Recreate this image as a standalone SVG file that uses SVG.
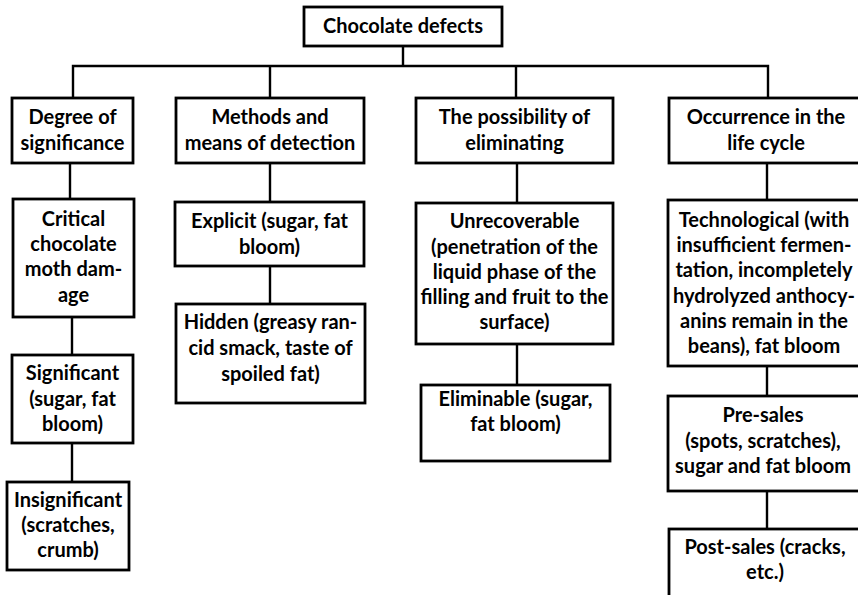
<svg xmlns="http://www.w3.org/2000/svg" width="858" height="595" viewBox="0 0 858 595">
<style>
.box{fill:#fff;stroke:#000;stroke-width:2.8}
.ln{fill:none;stroke:#000;stroke-width:2.4}
text{font-family:Lato,"Open Sans","Liberation Sans",sans-serif;font-weight:bold;font-size:20px;fill:#000;text-anchor:middle}
</style>
<rect width="858" height="595" fill="#fff"/>
<g id="connectors" class="ln">
<path d="M403 46V66M73 98V66H768V98M270 66V98M516 66V98"/>
<path d="M70 163V199M72 317V355M72 443V482"/>
<path d="M270 163V202M270 266V304"/>
<path d="M517 163V203M517 344V385"/>
<path d="M767 163V200M767 366V396M767 491V529"/>
</g>
<g id="root"><rect class="box" x="304" y="7" width="198" height="39"/><text x="403" y="33">Chocolate defects</text></g>
<g id="degree"><rect class="box" x="12" y="98" width="121" height="65"/><text x="72.5" y="124">Degree of</text><text x="72.5" y="150">significance</text></g>
<g id="methods"><rect class="box" x="176" y="98" width="188" height="65"/><text x="270" y="124">Methods and</text><text x="270" y="150">means of detection</text></g>
<g id="possibility"><rect class="box" x="416" y="98" width="197" height="65"/><text x="514.5" y="124">The possibility of</text><text x="514.5" y="150">eliminating</text></g>
<g id="occurrence"><rect class="box" x="669" y="98" width="194" height="65"/><text x="766" y="124">Occurrence in the</text><text x="766" y="150">life cycle</text></g>
<g id="critical"><rect class="box" x="13" y="199" width="121" height="118"/><text x="73.5" y="225.7">Critical</text><text x="73.5" y="251">chocolate</text><text x="73.5" y="276.3">moth dam-</text><text x="73.5" y="301.7">age</text></g>
<g id="significant"><rect class="box" x="12" y="355" width="121" height="88"/><text x="72.5" y="380">Significant</text><text x="72.5" y="405.5">(sugar, fat</text><text x="72.5" y="431">bloom)</text></g>
<g id="insignificant"><rect class="box" x="7" y="482" width="122" height="88"/><text x="68" y="506.7">Insignificant</text><text x="68" y="532">(scratches,</text><text x="68" y="557">crumb)</text></g>
<g id="explicit"><rect class="box" x="175" y="202" width="189" height="64"/><text x="269.5" y="228.3">Explicit (sugar, fat</text><text x="269.5" y="254">bloom)</text></g>
<g id="hidden"><rect class="box" x="176" y="304" width="189" height="99"/><text x="270.5" y="329.3">Hidden (greasy ran-</text><text x="270.5" y="355">cid smack, taste of</text><text x="270.5" y="380.5">spoiled fat)</text></g>
<g id="unrecoverable"><rect class="box" x="416" y="203" width="197" height="141"/><text x="514.5" y="228.3">Unrecoverable</text><text x="514.5" y="253.5">(penetration of the</text><text x="514.5" y="278.7">liquid phase of the</text><text x="514.5" y="304">filling and fruit to the</text><text x="514.5" y="329.3">surface)</text></g>
<g id="eliminable"><rect class="box" x="421" y="385" width="189" height="76"/><text x="515.5" y="405.5">Eliminable (sugar,</text><text x="515.5" y="431">fat bloom)</text></g>
<g id="technological"><rect class="box" x="668" y="200" width="195" height="166"/><text x="764" y="226.7">Technological (with</text><text x="764" y="252">insufficient fermen-</text><text x="764" y="277.3">tation, incompletely</text><text x="764" y="302.7">hydrolyzed anthocy-</text><text x="764" y="328">anins remain in the</text><text x="764" y="353.3">beans), fat bloom</text></g>
<g id="presales"><rect class="box" x="668" y="396" width="195" height="95"/><text x="763" y="422.3">Pre-sales</text><text x="763" y="447.5">(spots, scratches),</text><text x="763" y="472.7">sugar and fat bloom</text></g>
<g id="postsales"><rect class="box" x="669" y="529" width="194" height="70"/><text x="765" y="554">Post-sales (cracks,</text><text x="765" y="579.3">etc.)</text></g>
</svg>
